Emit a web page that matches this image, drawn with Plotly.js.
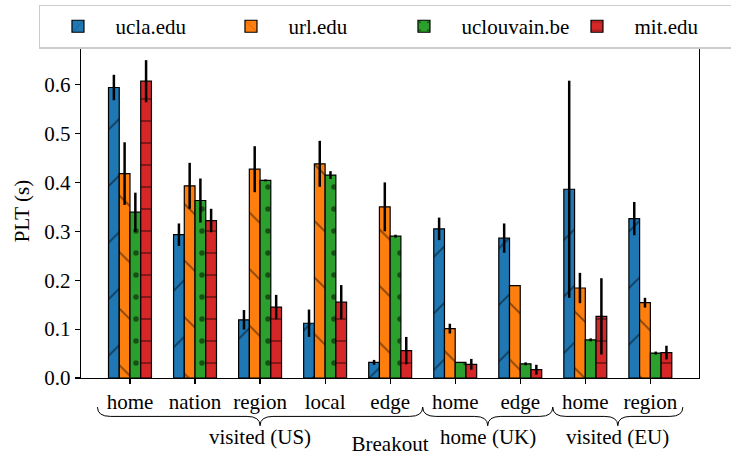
<!DOCTYPE html>
<html>
<head>
<meta charset="utf-8">
<script src="https://cdn.plot.ly/plotly-3.0.1.min.js"></script>
<style>html,body{margin:0;padding:0;background:#fff;}#chart{width:731px;height:456px;}</style>
</head>
<body>
<div id="chart"></div>
<script>
// ---- data ----
var categories = ['home', 'nation', 'region', 'local', 'edge', 'home', 'edge', 'home', 'region'];
var groupNames = ['visited (US)', 'home (UK)', 'visited (EU)'];
var groupSizes = [5, 2, 2];
var seriesNames = ['ucla.edu', 'url.edu', 'uclouvain.be', 'mit.edu'];

var ucla      = [0.594, 0.293, 0.119, 0.112, 0.032, 0.305, 0.286, 0.386, 0.326];
var uclaErr   = [0.026, 0.023, 0.020, 0.028, 0.005, 0.023, 0.030, 0.222, 0.034];
var url       = [0.418, 0.393, 0.427, 0.438, 0.350, 0.101, 0.189, 0.184, 0.154];
var urlErr    = [0.064, 0.047, 0.047, 0.047, 0.050, 0.010, 0.000, 0.031, 0.010];
var uclouvain = [0.339, 0.363, 0.404, 0.415, 0.290, 0.032, 0.029, 0.078, 0.051];
var uclouvainErr = [0.040, 0.045, 0.002, 0.008, 0.003, 0.000, 0.003, 0.003, 0.003];
var mit       = [0.607, 0.322, 0.145, 0.155, 0.056, 0.028, 0.017, 0.126, 0.052];
var mitErr    = [0.043, 0.024, 0.025, 0.035, 0.028, 0.011, 0.010, 0.078, 0.014];

var yTicks = [0.0, 0.1, 0.2, 0.3, 0.4, 0.5, 0.6];

// ---- styles ----
var FONT = 'Liberation Serif';
var FS = 21;
var colors = ['#1f77b4', '#ff7f0e', '#2ca02c', '#d62728'];
var patterns = [
  {shape: '/', size: 40, solidity: 0.04, fgcolor: '#000', fillmode: 'overlay'},
  {shape: '\\', size: 40, solidity: 0.04, fgcolor: '#000', fillmode: 'overlay'},
  {shape: '.', size: 22, solidity: 0.05, fgcolor: '#000', fillmode: 'overlay'},
  {shape: '-', size: 22, solidity: 0.07, fgcolor: '#000', fillmode: 'overlay'}
];
var values = [ucla, url, uclouvain, mit];
var errors = [uclaErr, urlErr, uclouvainErr, mitErr];
var xIdx = categories.map(function (_, i) { return i; });

var traces = values.map(function (v, k) {
  return {
    type: 'bar',
    name: seriesNames[k],
    x: xIdx,
    y: v,
    marker: {color: colors[k], line: {color: '#000', width: 1.2}, pattern: patterns[k]},
    error_y: {type: 'data', array: errors[k], visible: true, color: '#000', thickness: 2.5, width: 0}
  };
});

// braces + group labels
var shapes = [], annotations = [];
var start = 0;
var y0 = -0.087, y1 = -0.115, y2 = -0.143, d = 0.2;
groupNames.forEach(function (g, i) {
  var a = start, b = start + groupSizes[i] - 1;
  var L = a - 0.5, R = b + 0.5, C = (a + b) / 2;
  var p = 'M' + L + ',' + y0 +
          ' Q' + L + ',' + y1 + ' ' + (L + d) + ',' + y1 +
          ' L' + (C - d) + ',' + y1 +
          ' Q' + C + ',' + y1 + ' ' + C + ',' + y2 +
          ' Q' + C + ',' + y1 + ' ' + (C + d) + ',' + y1 +
          ' L' + (R - d) + ',' + y1 +
          ' Q' + R + ',' + y1 + ' ' + R + ',' + y0;
  shapes.push({type: 'path', xref: 'x', yref: 'paper', path: p, line: {color: '#000', width: 1}});
  annotations.push({xref: 'x', yref: 'paper', x: C, y: -0.176, yanchor: 'middle', xanchor: 'center',
    text: g, showarrow: false, font: {family: FONT, size: FS, color: '#000'}});
  start += groupSizes[i];
});

var layout = {
  width: 731, height: 456,
  margin: {l: 81, r: 32, t: 44, b: 78, autoexpand: false},
  paper_bgcolor: '#fff', plot_bgcolor: '#fff',
  font: {family: FONT, size: FS, color: '#000'},
  barmode: 'group', bargap: 0.34, bargroupgap: 0,
  showlegend: true,
  legend: {
    orientation: 'h', x: -0.068, xanchor: 'left', y: 1.118, yanchor: 'top',
    bgcolor: '#fff', bordercolor: '#cccccc', borderwidth: 1.5,
    font: {family: FONT, size: FS, color: '#000'},
    itemwidth: 65, entrywidth: 93, traceorder: 'normal'
  },
  xaxis: {
    range: [-0.753, 8.748],
    tickmode: 'array', tickvals: xIdx, ticktext: categories,
    ticks: 'outside', ticklen: 5, tickwidth: 1.2, tickcolor: '#000',
    showline: true, linecolor: '#000', linewidth: 1.2, mirror: true,
    showgrid: false, zeroline: false,
    tickfont: {family: FONT, size: FS, color: '#000'},
    title: {text: 'Breakout', standoff: 26, font: {family: FONT, size: FS, color: '#000'}}
  },
  yaxis: {
    range: [0, 0.683],
    tickmode: 'array', tickvals: yTicks, tickformat: '.1f',
    ticks: 'outside', ticklen: 5, tickwidth: 1.2, tickcolor: '#000',
    showline: true, linecolor: '#000', linewidth: 1.2, mirror: true,
    showgrid: false, zeroline: false,
    tickfont: {family: FONT, size: FS, color: '#000'},
    title: {text: 'PLT (s)', font: {family: FONT, size: FS, color: '#000'}}
  },
  shapes: shapes,
  annotations: annotations
};

Plotly.newPlot('chart', traces, layout, {displayModeBar: false, staticPlot: true});
</script>
</body>
</html>
